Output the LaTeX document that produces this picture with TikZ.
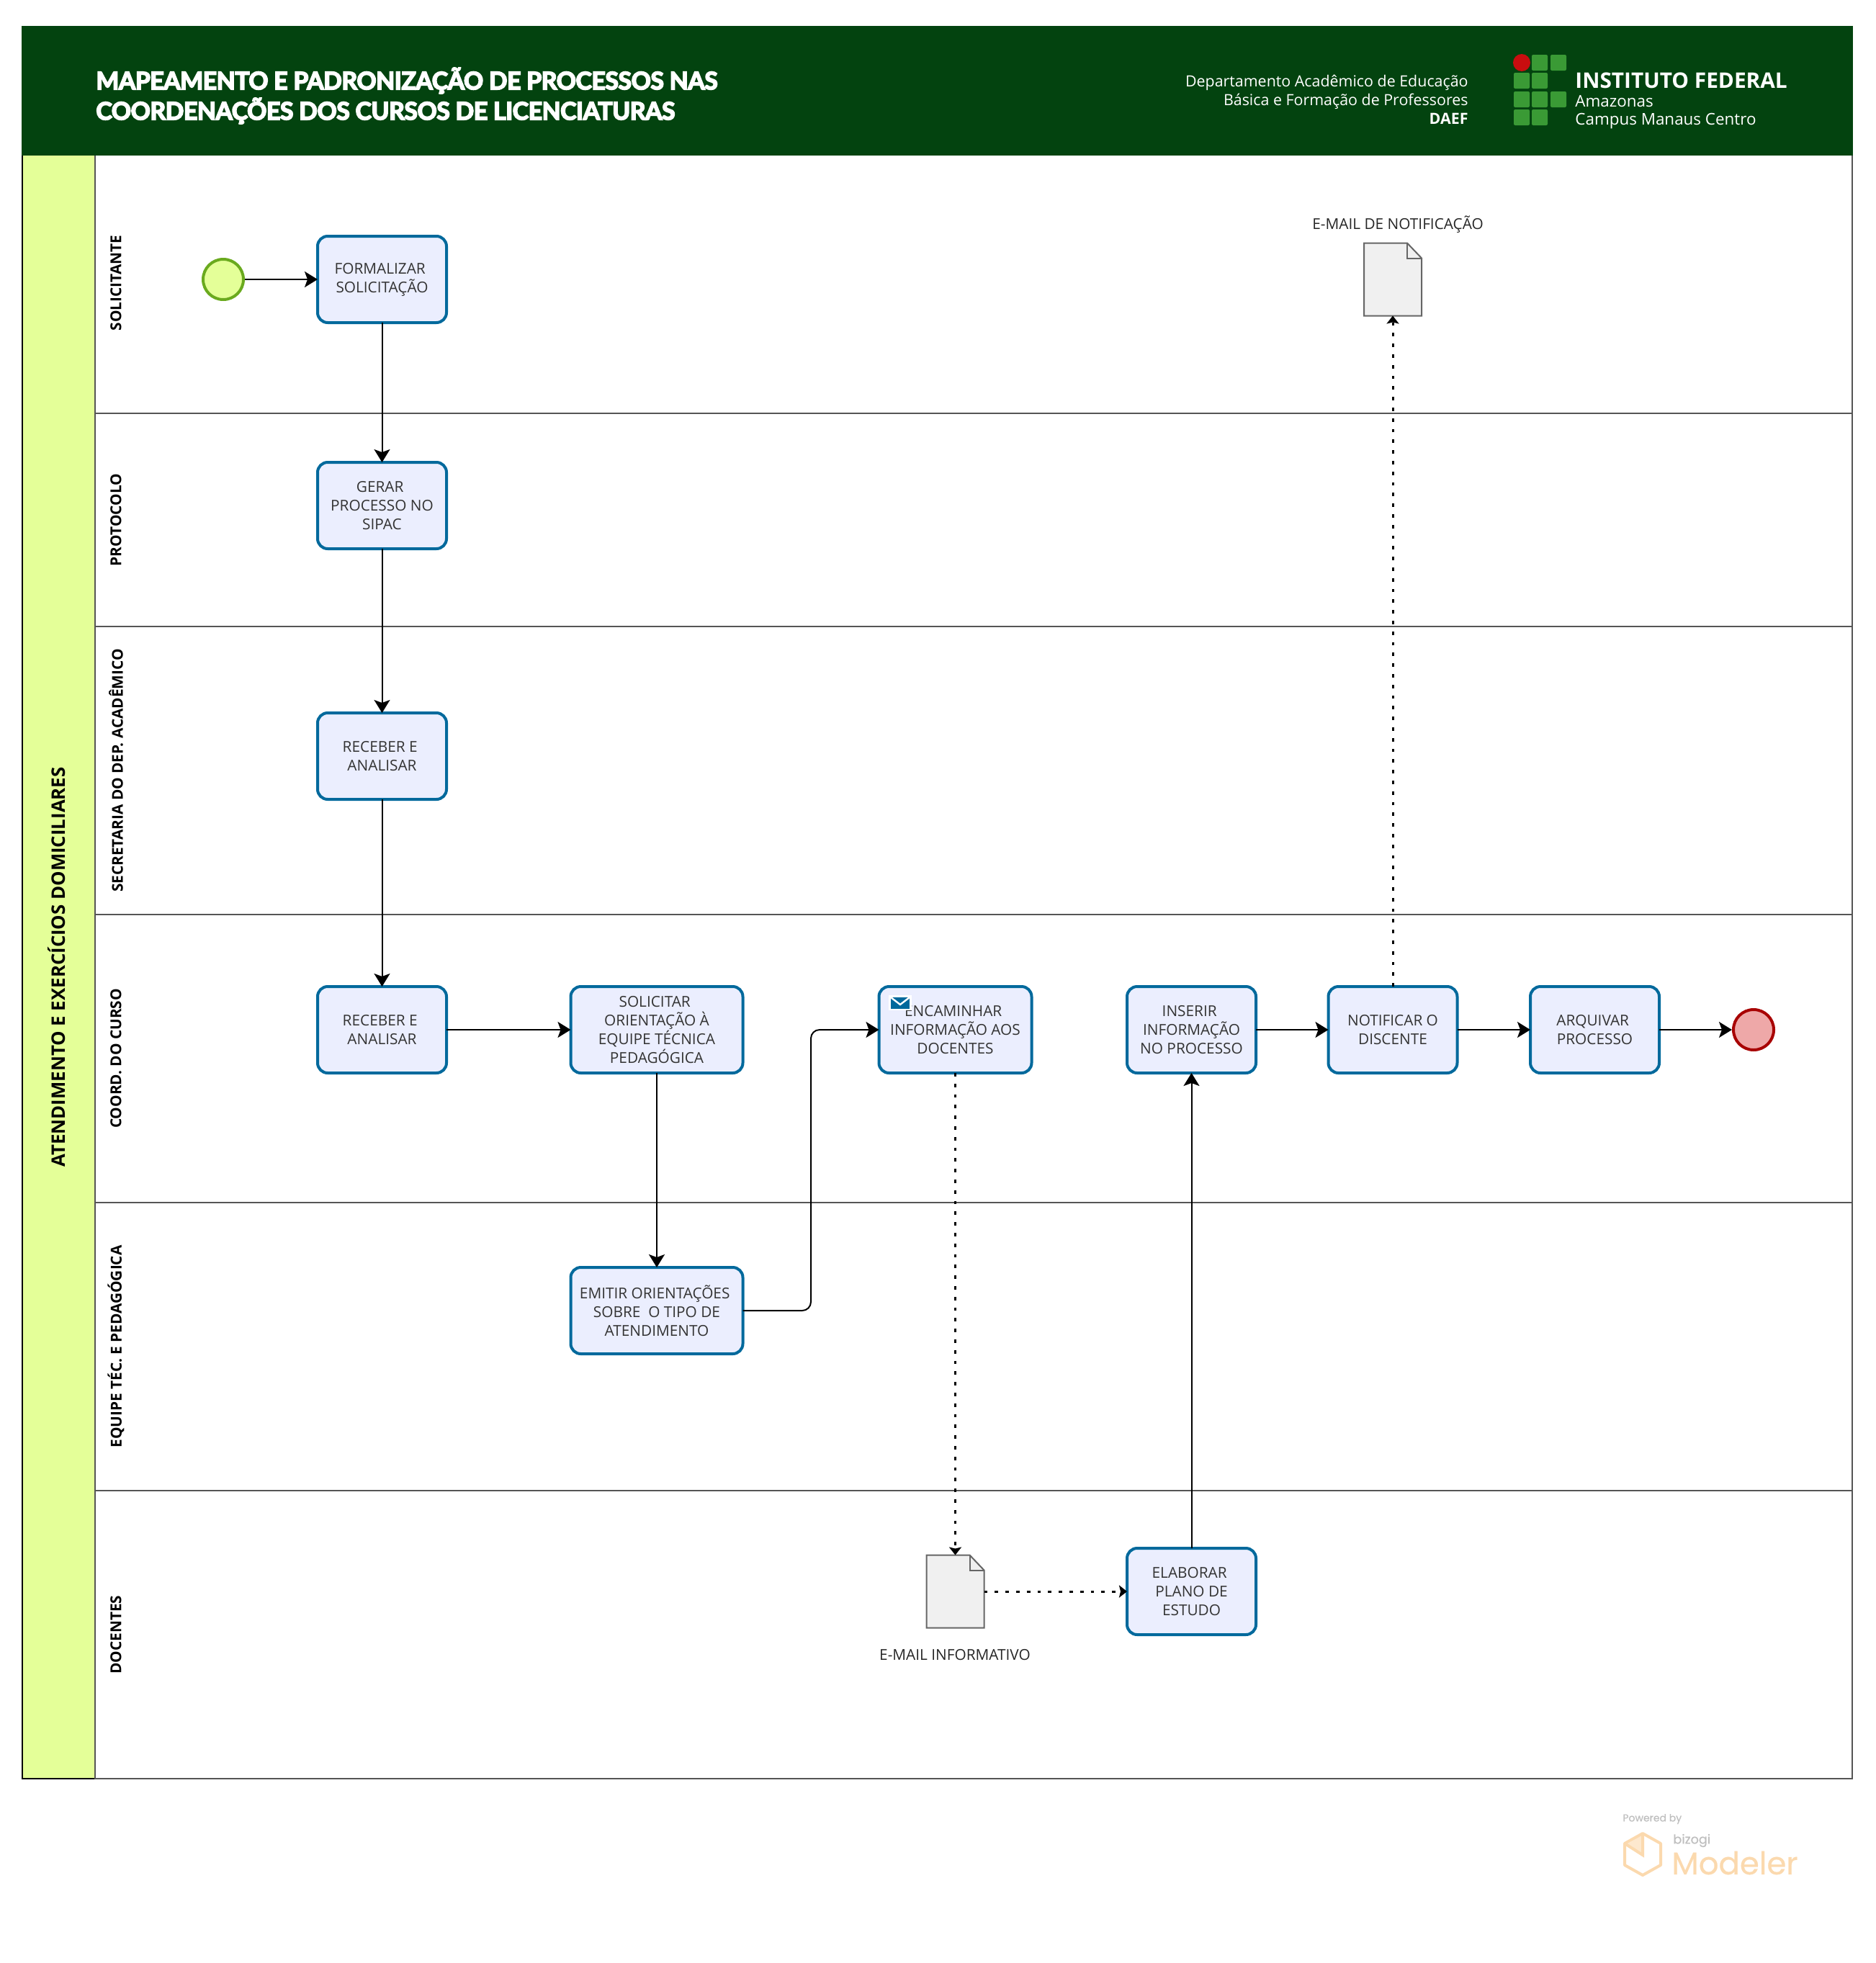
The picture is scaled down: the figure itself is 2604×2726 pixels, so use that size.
\documentclass[tikz,border=0pt]{standalone}
\usepackage{fontspec}
\setmainfont{Open Sans}
\newfontfamily\titlefont[FakeBold=5,LetterSpace=-1.2]{Lato Bold}
\newfontfamily\brandfont[FakeBold=0.6]{Poppins}
\usetikzlibrary{arrows.meta,shapes.geometric}
\definecolor{headgreen}{HTML}{03430F}
\definecolor{logogreen}{HTML}{3A9A35}
\definecolor{logored}{HTML}{C80D0F}
\definecolor{poolfill}{HTML}{E4FF98}
\definecolor{taskfill}{HTML}{EBEEFE}
\definecolor{taskline}{HTML}{01699C}
\definecolor{lanegray}{HTML}{555555}
\definecolor{brandorange}{HTML}{FBD9AE}
\newcommand{\tsp}{\hspace*{2.8pt}}
\tikzset{
  flow/.style={-{Stealth[length=9pt,width=11pt,inset=2pt]},line width=1pt,black},
  msgflow/.style={-{Stealth[length=5.5pt,width=8.5pt,inset=1pt]},line width=1.5pt,black,dash pattern=on 2.4pt off 5pt},
  taskbox/.style={draw=taskline,fill=taskfill,line width=2pt,rounded corners=7pt,outer sep=0pt,
    minimum width=89.5pt,minimum height=60pt,align=center,text=black!80,
    font=\fontsize{10.4}{13}\selectfont},
  eventbox/.style={circle,line width=2pt,minimum size=28pt,inner sep=0pt,outer sep=1pt},
  docbox/.style={minimum width=40pt,minimum height=50.5pt,inner sep=0pt,outer sep=0pt},
  docline/.style={draw=black!60,fill=black!6,line width=1pt},
  lanelabel/.style={rotate=90,font=\fontsize{10.4}{13}\selectfont\bfseries},
  doclabel/.style={font=\fontsize{10.4}{13}\selectfont,text=black!85},
  headtext/.style={text=white,inner sep=0pt,font=\fontsize{10.7}{13}\selectfont},
  logocell/.style={fill=logogreen,rounded corners=1pt},
}
\begin{document}
\begin{tikzpicture}[x=0.5pt,y=-0.5pt]
  \useasboundingbox (0,0) rectangle (2604,2726);

  % pool and lanes
  \fill[poolfill] (30,216) rectangle (132,2470);
  \draw[line width=1pt] (31,216) -- (31,2470) -- (132,2470);
  \draw[lanegray,line width=1pt] (132,216) -- (132,2470) -- (2572,2470) -- (2572,216);
  \foreach \y in {574,870,1270,1670,2070}
    \draw[lanegray,line width=1pt] (132,\y) -- (2572,\y);
  \node[rotate=90,font=\fontsize{12.9}{15}\selectfont\bfseries] (pool) at (79,1343) {ATENDIMENTO E EXERCÍCIOS DOMICILIARES};
  \node[lanelabel] (solicitante) at (161,393) {SOLICITANTE};
  \node[lanelabel] (protocolo) at (161,722) {PROTOCOLO};
  \node[lanelabel] (secretaria) at (161,1070) {SECRETARIA DO DEP. ACADÊMICO};
  \node[lanelabel] (coord) at (161,1470) {COORD. DO CURSO};
  \node[lanelabel] (equipe) at (161,1870) {EQUIPE TÉC. E PEDAGÓGICA};
  \node[lanelabel] (docentes) at (161,2270) {DOCENTES};

  % header
  \fill[headgreen] (30,36) rectangle (2573,216);
  \node[anchor=west,text=white,inner sep=0pt,align=left,font=\fontsize{16.85}{21}\titlefont] (title) at (133,133)
    {MAPEAMENTO E PADRONIZAÇÃO DE PROCESSOS NAS\\COORDENAÇÕES DOS CURSOS DE LICENCIATURAS};
  \node[headtext,anchor=east,align=right] (daef) at (2039,138)
    {Departamento Acadêmico de Educação\\Básica e Formação de Professores\\\textbf{DAEF}};
  \foreach \cx/\cy in {2127/76,2153/76,2102/101,2127/101,2102/127,2127/127,2153/127,2102/152,2127/152}
    \fill[logocell] (\cx,\cy) rectangle ++(22,22);
  \fill[logored] (2113,87) circle (6pt);
  \node[headtext,anchor=west,font=\fontsize{14.9}{16}\selectfont\bfseries] (instituto) at (2187,112) {INSTITUTO FEDERAL};
  \node[headtext,anchor=west,font=\fontsize{11.2}{13}\selectfont] (amazonas) at (2187,141) {Amazonas};
  \node[headtext,anchor=west,font=\fontsize{11.2}{13}\selectfont] (campus) at (2187,168) {Campus Manaus Centro};

  % events
  \node[eventbox,fill=poolfill,draw={rgb,255:red,106;green,170;blue,30}] (start) at (310,388) {};
  \node[eventbox,draw={rgb,255:red,168;green,0;blue,0},fill={rgb,255:red,238;green,168;blue,168}] (finish) at (2435,1430) {};

  % tasks
  \node[taskbox] (formalizar) at (530.5,388) {FORMALIZAR\tsp\\SOLICITAÇÃO};
  \node[taskbox] (gerar) at (530.5,702) {GERAR\tsp\\PROCESSO NO\tsp\\SIPAC};
  \node[taskbox] (receber) at (530.5,1050) {RECEBER E\tsp\\ANALISAR};
  \node[taskbox] (recebercoord) at (530.5,1430) {RECEBER E\tsp\\ANALISAR};
  \node[taskbox,minimum width=119.5pt] (solicitar) at (912,1430) {SOLICITAR\tsp\\ORIENTAÇÃO À\tsp\\EQUIPE TÉCNICA\tsp\\PEDAGÓGICA};
  \node[taskbox,minimum width=119.5pt] (emitir) at (912,1820) {EMITIR ORIENTAÇÕES\tsp\\SOBRE\ \ O TIPO DE\\ATENDIMENTO};
  \node[taskbox,minimum width=106pt] (encaminhar) at (1326.5,1430) {ENCAMINHAR\tsp\\INFORMAÇÃO AOS\\DOCENTES};
  \node[taskbox] (inserir) at (1654.5,1430) {INSERIR\tsp\\INFORMAÇÃO\tsp\\NO PROCESSO};
  \node[taskbox] (notificar) at (1934,1430) {NOTIFICAR O\\DISCENTE};
  \node[taskbox] (arquivar) at (2214.5,1430) {ARQUIVAR\tsp\\PROCESSO};
  \node[taskbox] (elaborar) at (1654.5,2210) {ELABORAR\tsp\\PLANO DE\tsp\\ESTUDO};

  % mail marker
  \fill[white] (1234,1382) rectangle (1266,1403);
  \fill[taskline] (1237,1385) rectangle (1263,1401);
  \draw[white,line width=1.2pt] (1237,1385) -- (1250,1395) -- (1263,1385);

  % documents
  \node[docbox] (docnotif) at (1934,388) {};
  \draw[docline] (docnotif.north west) -- ++(60,0) -- ++(20,21) |- (docnotif.south west) -- cycle;
  \draw[docline,fill=none] ([xshift=30pt]docnotif.north west) |- ++(20,21);
  \node[doclabel] (docnotiflabel) at (1941,312) {E-MAIL DE NOTIFICAÇÃO};
  \node[docbox] (docinfo) at (1326.5,2210) {};
  \draw[docline] (docinfo.north west) -- ++(60,0) -- ++(20,21) |- (docinfo.south west) -- cycle;
  \draw[docline,fill=none] ([xshift=30pt]docinfo.north west) |- ++(20,21);
  \node[doclabel] (docinfolabel) at (1326,2298) {E-MAIL INFORMATIVO};

  % connectors
  \coordinate (elbow) at (1126,1430);
  \draw[flow] (start) -- (formalizar);
  \draw[flow] (formalizar) -- (gerar);
  \draw[flow] (gerar) -- (receber);
  \draw[flow] (receber) -- (recebercoord);
  \draw[flow] (recebercoord) -- (solicitar);
  \draw[flow] (solicitar) -- (emitir);
  \draw[flow,rounded corners=6pt] (emitir) -| (elbow) -- (encaminhar);
  \draw[flow] (elaborar) -- (inserir);
  \draw[flow] (inserir) -- (notificar);
  \draw[flow] (notificar) -- (arquivar);
  \draw[flow] (arquivar) -- (finish);
  \draw[msgflow] (encaminhar) -- (docinfo);
  \draw[msgflow] (docinfo) -- (elaborar);
  \draw[msgflow] (notificar) -- (docnotif);

  % watermark
  \node[anchor=west,inner sep=0pt,text=black!25,font=\fontsize{7}{8}\brandfont] (powered) at (2253,2526) {Powered by};
  \node[anchor=west,inner sep=0pt,text=black!25,font=\fontsize{8.8}{9}\brandfont] (bizogi) at (2323,2556) {bizogi};
  \node[anchor=west,inner sep=0pt,text=brandorange,font=\fontsize{21.7}{24}\brandfont] (modeler) at (2321,2587) {Modeler};
  \fill[brandorange!60] (2281,2548) -- (2281,2576) -- (2259,2561) -- cycle;
  \draw[brandorange,line width=2pt,line join=round] (2281,2546) -- (2306,2560) -- (2306,2590) -- (2281,2604) -- (2256,2590) -- (2256,2560) -- cycle;
  \draw[brandorange,line width=2pt] (2256,2560) -- (2281,2576) -- (2281,2546);
\end{tikzpicture}
\end{document}
